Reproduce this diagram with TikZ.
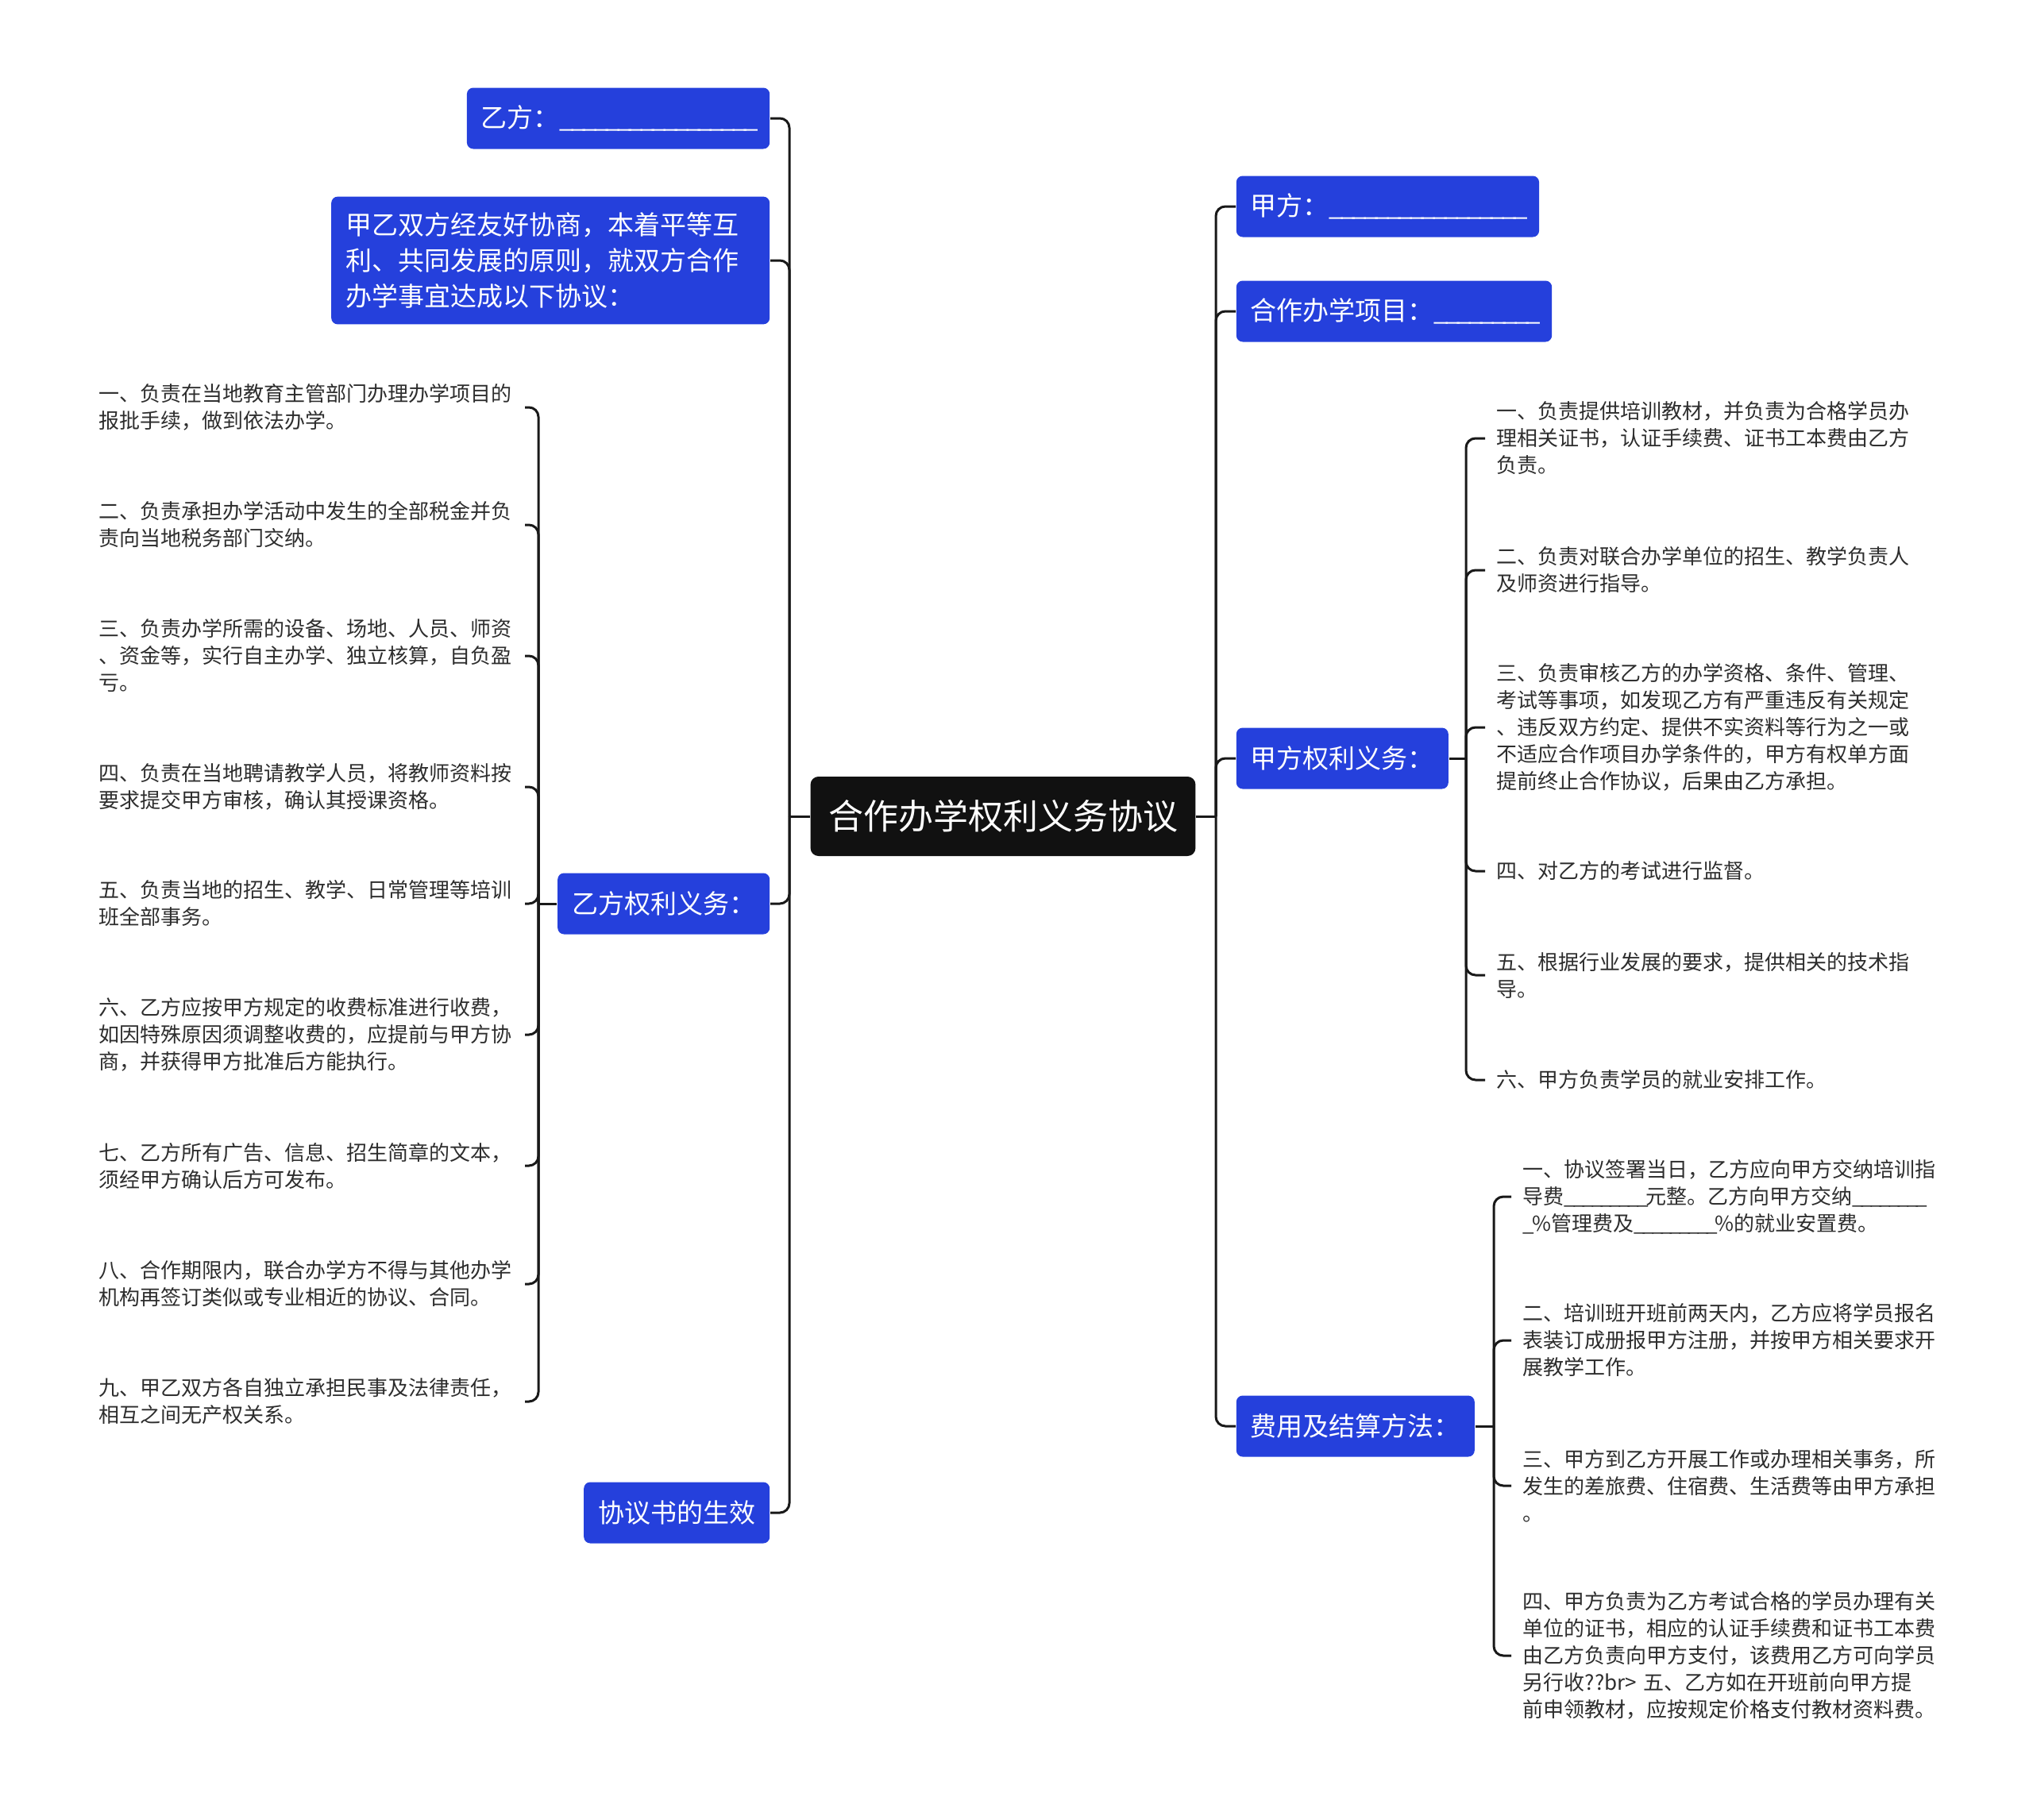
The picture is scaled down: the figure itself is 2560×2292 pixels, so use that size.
\documentclass[tikz,border=0pt]{standalone}
\usepackage{fontspec}
\setmainfont{Noto Sans CJK SC}
\usetikzlibrary{positioning}
\definecolor{topicblue}{RGB}{37,64,220}
\definecolor{rootblack}{RGB}{17,17,17}
\definecolor{leafgray}{RGB}{45,45,45}
\newcommand{\fillin}[1]{\foreach \k in {1,...,#1}{\_\kern-0.12em}}

\begin{document}
\begin{tikzpicture}[x=0.25pt, y=-0.25pt,
    root/.style={rectangle, fill=rootblack, text=white, rounded corners=2.5pt, inner xsep=5.6pt, minimum height=25pt, font=\fontsize{11}{13}\selectfont},
    topic/.style={rectangle, fill=topicblue, text=white, rounded corners=2pt, inner xsep=4.5pt, inner ysep=5pt, minimum height=19.25pt, align=left, font=\fontsize{8.25}{11.25}\selectfont},
    leaf/.style={rectangle, text=leafgray, text width=130.5pt, inner xsep=3.5pt, inner ysep=1pt, align=left, font=\fontsize{6.5}{8.5}\selectfont},
    link/.style={draw=black!90, line width=0.75pt, rounded corners=3pt}
]
    \useasboundingbox (0,0) rectangle (2560,2292);

    % Root
    \node[root] (root) at (1263,1028) {合作办学权利义务协议};

    % Left topics
    \node[topic, anchor=east] (yifang) at (970,149) {乙方：\fillin{17}};
    \node[topic, anchor=east, text width=129pt] (intro) at (970,328) {甲乙双方经友好协商，本着平等互\\利、共同发展的原则，就双方合作\\办学事宜达成以下协议：};
    \node[topic, anchor=east] (yiduty) at (970,1138) {乙方权利义务：};
    \node[topic, anchor=east] (effect) at (970,1905) {协议书的生效};

    % Right topics
    \node[topic, anchor=west] (jiafang) at (1556,260) {甲方：\fillin{17}};
    \node[topic, anchor=west] (project) at (1556,392) {合作办学项目：\fillin{9}};
    \node[topic, anchor=west] (jiaduty) at (1556,955) {甲方权利义务：};
    \node[topic, anchor=west] (fees) at (1556,1796) {费用及结算方法：};

    % Duties of party B
    \node[leaf, anchor=east] (y1) at (661,513) {一、负责在当地教育主管部门办理办学项目的\\报批手续，做到依法办学。};
    \node[leaf, anchor=east] (y2) at (661,661) {二、负责承担办学活动中发生的全部税金并负\\责向当地税务部门交纳。};
    \node[leaf, anchor=east] (y3) at (661,826) {三、负责办学所需的设备、场地、人员、师资\\、资金等，实行自主办学、独立核算，自负盈\\亏。};
    \node[leaf, anchor=east] (y4) at (661,991) {四、负责在当地聘请教学人员，将教师资料按\\要求提交甲方审核，确认其授课资格。};
    \node[leaf, anchor=east] (y5) at (661,1138) {五、负责当地的招生、教学、日常管理等培训\\班全部事务。};
    \node[leaf, anchor=east] (y6) at (661,1303) {六、乙方应按甲方规定的收费标准进行收费，\\如因特殊原因须调整收费的，应提前与甲方协\\商，并获得甲方批准后方能执行。};
    \node[leaf, anchor=east] (y7) at (661,1468) {七、乙方所有广告、信息、招生简章的文本，\\须经甲方确认后方可发布。};
    \node[leaf, anchor=east] (y8) at (661,1617) {八、合作期限内，联合办学方不得与其他办学\\机构再签订类似或专业相近的协议、合同。};
    \node[leaf, anchor=east] (y9) at (661,1765) {九、甲乙双方各自独立承担民事及法律责任，\\相互之间无产权关系。};

    % Duties of party A
    \node[leaf, anchor=west] (j1) at (1870,552) {一、负责提供培训教材，并负责为合格学员办\\理相关证书，认证手续费、证书工本费由乙方\\负责。};
    \node[leaf, anchor=west] (j2) at (1870,718) {二、负责对联合办学单位的招生、教学负责人\\及师资进行指导。};
    \node[leaf, anchor=west] (j3) at (1870,916) {三、负责审核乙方的办学资格、条件、管理、\\考试等事项，如发现乙方有严重违反有关规定\\、违反双方约定、提供不实资料等行为之一或\\不适应合作项目办学条件的，甲方有权单方面\\提前终止合作协议，后果由乙方承担。};
    \node[leaf, anchor=west] (j4) at (1870,1097) {四、对乙方的考试进行监督。};
    \node[leaf, anchor=west] (j5) at (1870,1228) {五、根据行业发展的要求，提供相关的技术指\\导。};
    \node[leaf, anchor=west] (j6) at (1870,1360) {六、甲方负责学员的就业安排工作。};

    % Fees
    \node[leaf, anchor=west] (f1) at (1903,1507) {一、协议签署当日，乙方应向甲方交纳培训指\\导费\fillin{9}元整。乙方向甲方交纳\fillin{8}\\\fillin{1}\%管理费及\fillin{9}\%的就业安置费。};
    \node[leaf, anchor=west] (f2) at (1903,1688) {二、培训班开班前两天内，乙方应将学员报名\\表装订成册报甲方注册，并按甲方相关要求开\\展教学工作。};
    \node[leaf, anchor=west] (f3) at (1903,1871) {三、甲方到乙方开展工作或办理相关事务，所\\发生的差旅费、住宿费、生活费等由甲方承担\\。};
    \node[leaf, anchor=west] (f4) at (1903,2085) {四、甲方负责为乙方考试合格的学员办理有关\\单位的证书，相应的认证手续费和证书工本费\\由乙方负责向甲方支付，该费用乙方可向学员\\另行收??br> 五、乙方如在开班前向甲方提\\前申领教材，应按规定价格支付教材资料费。};

    % Hubs
    \coordinate (lhub) at (994,1028);
    \coordinate (rhub) at (1531,1028);
    \coordinate (yhub) at (678,1138);
    \coordinate (jhub) at (1846,955);
    \coordinate (fhub) at (1881,1796);

    % Root links
    \draw[link] (root.west) -- (lhub);
    \draw[link] (root.east) -- (rhub);
    \draw[link] (lhub) |- (yifang.east);
    \draw[link] (lhub) |- (intro.east);
    \draw[link] (lhub) |- (yiduty.east);
    \draw[link] (lhub) |- (effect.east);
    \draw[link] (rhub) |- (jiafang.west);
    \draw[link] (rhub) |- (project.west);
    \draw[link] (rhub) |- (jiaduty.west);
    \draw[link] (rhub) |- (fees.west);

    % Party B links
    \draw[link] (yiduty.west) -- (yhub);
    \draw[link] (yhub) |- (y1.east);
    \draw[link] (yhub) |- (y2.east);
    \draw[link] (yhub) |- (y3.east);
    \draw[link] (yhub) |- (y4.east);
    \draw[link] (yhub) |- (y5.east);
    \draw[link] (yhub) |- (y6.east);
    \draw[link] (yhub) |- (y7.east);
    \draw[link] (yhub) |- (y8.east);
    \draw[link] (yhub) |- (y9.east);

    % Party A links
    \draw[link] (jiaduty.east) -- (jhub);
    \draw[link] (jhub) |- (j1.west);
    \draw[link] (jhub) |- (j2.west);
    \draw[link] (jhub) |- (j3.west);
    \draw[link] (jhub) |- (j4.west);
    \draw[link] (jhub) |- (j5.west);
    \draw[link] (jhub) |- (j6.west);

    % Fee links
    \draw[link] (fees.east) -- (fhub);
    \draw[link] (fhub) |- (f1.west);
    \draw[link] (fhub) |- (f2.west);
    \draw[link] (fhub) |- (f3.west);
    \draw[link] (fhub) |- (f4.west);
\end{tikzpicture}
\end{document}
